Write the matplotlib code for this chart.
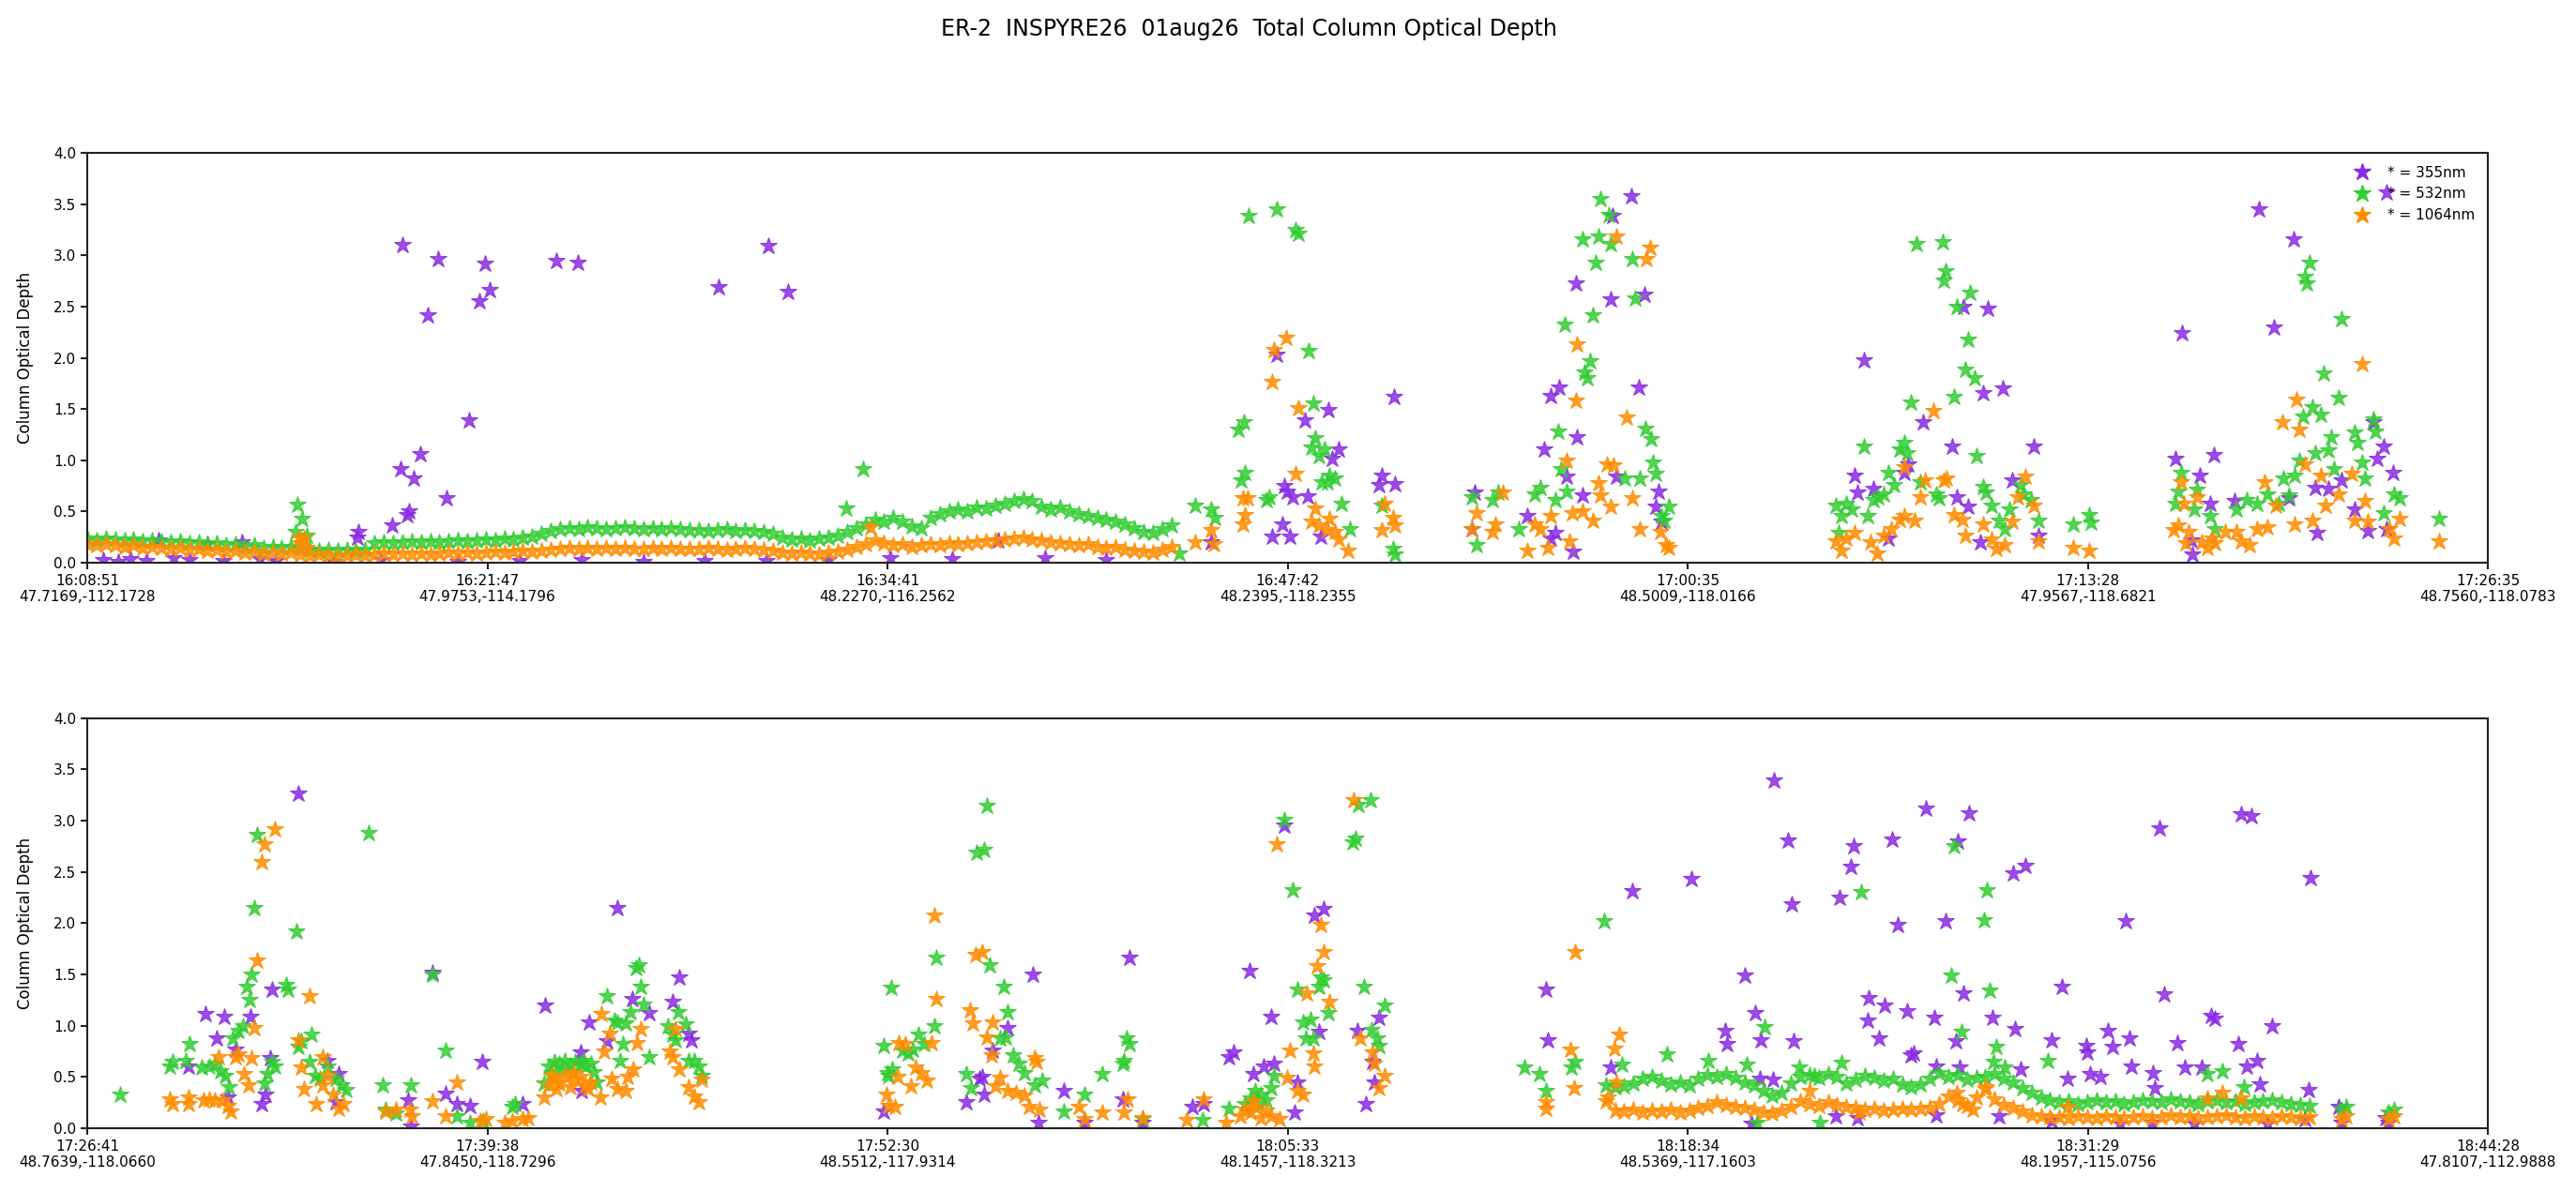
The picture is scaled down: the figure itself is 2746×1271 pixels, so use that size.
import numpy as np
import matplotlib.pyplot as plt
from matplotlib.lines import Line2D

# minutes after the first time on each panel
top_start, top_end = '16:08:51', '17:26:35'
bot_start, bot_end = '17:26:41', '18:44:28'

top_labels = ['16:08:51\n47.7169,-112.1728', '16:21:47\n47.9753,-114.1796',
              '16:34:41\n48.2270,-116.2562', '16:47:42\n48.2395,-118.2355',
              '17:00:35\n48.5009,-118.0166', '17:13:28\n47.9567,-118.6821',
              '17:26:35\n48.7560,-118.0783']
bot_labels = ['17:26:41\n48.7639,-118.0660', '17:39:38\n47.8450,-118.7296',
              '17:52:30\n48.5512,-117.9314', '18:05:33\n48.1457,-118.3213',
              '18:18:34\n48.5369,-117.1603', '18:31:29\n48.1957,-115.0756',
              '18:44:28\n47.8107,-112.9888']

# dense (every ~18 s) stretches of the record
band_step = 0.3
top_band_start = 0.0
top_band_532 = [0.24, 0.22, 0.24, 0.23, 0.22, 0.23, 0.21, 0.22, 0.21, 0.20, 0.21, 0.19, 0.20, 0.18, 0.19, 0.17,
                0.18, 0.16, 0.17, 0.15, 0.16, 0.15, 0.16,
                0.14, 0.13, 0.12, 0.13, 0.12, 0.13, 0.12, 0.13,
                0.19, 0.20, 0.19, 0.20, 0.21, 0.20, 0.21, 0.20, 0.21, 0.22, 0.21, 0.22, 0.23, 0.22, 0.24, 0.23,
                0.25, 0.26, 0.28,
                0.31, 0.33, 0.34, 0.33, 0.35, 0.34, 0.33, 0.34, 0.35, 0.34, 0.33, 0.34, 0.33, 0.34, 0.33, 0.32,
                0.32, 0.31, 0.32, 0.33, 0.31, 0.32, 0.31, 0.30, 0.28,
                0.25, 0.23, 0.24, 0.22, 0.24, 0.25, 0.27,
                0.30, 0.34, 0.38, 0.42, 0.40, 0.44, 0.40,
                0.36, 0.34, 0.44, 0.48, 0.50, 0.52, 0.50, 0.54, 0.53, 0.56, 0.58, 0.60, 0.62, 0.60, 0.55, 0.52,
                0.54, 0.50, 0.48, 0.46, 0.44, 0.42, 0.40, 0.38, 0.34, 0.30, 0.29, 0.33, 0.37]
top_band_1064 = [0.18, 0.17, 0.18, 0.17, 0.16, 0.17, 0.15, 0.16, 0.15, 0.14, 0.15, 0.13, 0.14, 0.12, 0.13, 0.11,
                 0.12, 0.10, 0.11, 0.09, 0.10, 0.09, 0.10,
                 0.08, 0.07, 0.08, 0.07, 0.06, 0.07, 0.08, 0.07,
                 0.08, 0.09, 0.08, 0.09, 0.08, 0.09, 0.08, 0.09, 0.10, 0.09, 0.10, 0.09, 0.10, 0.11, 0.10, 0.11,
                 0.12, 0.11, 0.12,
                 0.13, 0.14, 0.15, 0.14, 0.15, 0.14, 0.15, 0.14, 0.15, 0.14, 0.14, 0.15, 0.14, 0.15, 0.14, 0.14,
                 0.14, 0.15, 0.14, 0.13, 0.14, 0.15, 0.14, 0.13, 0.12,
                 0.10, 0.09, 0.10, 0.09, 0.08, 0.10, 0.11,
                 0.13, 0.16, 0.18, 0.22, 0.19, 0.17, 0.18,
                 0.16, 0.17, 0.18, 0.17, 0.19, 0.18, 0.19, 0.20, 0.21, 0.22, 0.23, 0.24, 0.25, 0.23, 0.22, 0.20,
                 0.19, 0.18, 0.17, 0.18, 0.16, 0.15, 0.16, 0.13, 0.12, 0.11, 0.10, 0.13, 0.16]

bot_band_start = 49.2
bot_band_532 = [0.42, 0.40, 0.41, 0.44, 0.48, 0.50, 0.46, 0.43, 0.45, 0.42, 0.48,
                0.52, 0.50, 0.53, 0.49, 0.45, 0.42,
                0.36, 0.32, 0.35, 0.44,
                0.50, 0.52, 0.49, 0.53, 0.50, 0.44,
                0.47, 0.51, 0.49, 0.46, 0.48, 0.43, 0.40,
                0.43, 0.48, 0.54, 0.50, 0.52, 0.47, 0.49, 0.50, 0.53, 0.48, 0.45,
                0.39, 0.35, 0.30, 0.27,
                0.25, 0.26, 0.24, 0.25, 0.27, 0.25, 0.26, 0.24, 0.25, 0.27, 0.26, 0.25, 0.28, 0.26, 0.25, 0.24,
                0.26, 0.27, 0.25, 0.26, 0.24, 0.25, 0.26, 0.27, 0.25, 0.24, 0.23, 0.22]
bot_band_1064 = [0.26, 0.17, 0.16, 0.18, 0.15, 0.17, 0.16, 0.18, 0.15, 0.17, 0.20,
                 0.22, 0.25, 0.23, 0.21, 0.20, 0.18,
                 0.15, 0.14, 0.17, 0.21,
                 0.26, 0.24, 0.22, 0.25, 0.23, 0.21,
                 0.20, 0.18, 0.19, 0.17, 0.18, 0.19, 0.18,
                 0.19, 0.20, 0.24, 0.31, 0.27, 0.22, 0.30, 0.38, 0.28, 0.23, 0.20,
                 0.16, 0.13, 0.12, 0.11,
                 0.11, 0.10, 0.12, 0.11, 0.10, 0.12, 0.11, 0.10, 0.11, 0.12, 0.10, 0.11, 0.13, 0.11, 0.12, 0.10,
                 0.11, 0.12, 0.13, 0.11, 0.10, 0.12, 0.11, 0.10, 0.12, 0.11, 0.10, 0.11]

# sparse points (minute, optical depth)
top_355 = [(0.5, 0.03), (1.0, 0.01), (1.4, 0.04), (1.9, 0.02), (2.3, 0.22), (2.8, 0.05), (3.3, 0.03),
           (3.9, 0.18), (4.4, 0.02), (5.0, 0.20), (5.6, 0.04), (6.1, 0.02), (8.0, 0.01), (9.5, 0.03),
           (12.0, 0.01), (14.0, 0.02), (16.0, 0.03), (18.0, 0.01), (20.0, 0.02), (22.0, 0.02), (24.0, 0.03),
           (26.0, 0.05), (28.0, 0.04), (29.5, 0.22), (31.0, 0.05), (33.0, 0.03),
           (8.78, 0.30), (8.75, 0.25), (9.87, 0.37), (10.35, 0.47), (10.43, 0.50), (10.14, 0.92), (10.57, 0.82),
           (10.79, 1.06), (11.64, 0.63), (12.36, 1.39), (10.21, 3.10), (11.03, 2.42), (11.37, 2.97),
           (12.70, 2.55), (13.04, 2.66), (12.89, 2.92), (15.20, 2.95), (15.89, 2.93), (20.44, 2.69),
           (22.04, 3.09), (22.69, 2.65),
           (36.39, 0.20), (38.52, 2.03), (38.35, 0.26), (38.94, 0.26), (38.69, 0.38), (38.77, 0.75), (38.86, 0.70),
           (39.03, 0.64), (39.51, 0.65), (39.42, 1.39), (40.19, 1.49), (40.53, 1.11), (40.31, 1.02), (39.93, 0.26),
           (42.30, 1.62), (41.93, 0.85), (41.84, 0.76), (42.35, 0.77), (44.91, 0.69), (44.83, 0.33), (46.62, 0.46),
           (47.18, 1.11), (47.38, 1.63), (47.67, 1.71), (48.24, 1.23), (47.90, 0.84), (47.38, 0.24), (47.55, 0.29),
           (48.10, 0.11), (48.20, 2.73), (49.34, 2.57), (49.40, 3.39), (49.99, 3.58), (50.25, 1.71), (50.42, 2.62),
           (48.41, 0.66), (49.52, 0.84), (50.88, 0.70), (50.79, 0.55), (50.96, 0.40),
           (57.53, 1.98), (57.22, 0.85), (57.31, 0.69), (57.82, 0.72), (58.33, 0.24), (58.84, 0.88), (58.97, 0.96),
           (59.44, 1.37), (60.38, 1.14), (60.75, 2.50), (61.54, 2.48), (61.40, 1.66), (62.03, 1.70), (60.55, 0.64),
           (60.89, 0.55), (61.31, 0.20), (62.34, 0.81), (63.02, 1.14), (63.19, 0.27), (67.62, 1.02), (67.84, 2.24),
           (68.39, 0.85), (68.87, 1.05), (68.14, 0.22), (68.15, 0.08), (68.73, 0.58), (69.52, 0.60), (70.32, 3.45),
           (70.81, 2.30), (71.43, 3.16), (71.29, 0.63), (72.14, 0.73), (72.57, 0.72), (72.19, 0.29), (72.99, 0.81),
           (73.42, 0.52), (73.85, 0.31), (74.02, 1.37), (74.35, 1.14), (74.15, 1.02), (74.66, 0.88), (74.44, 0.33),
           (74.46, 3.62)]
top_532 = [(6.80, 0.57), (6.95, 0.43), (7.10, 0.27), (6.75, 0.30), (24.58, 0.53), (25.13, 0.92),
           (35.36, 0.09), (35.88, 0.56), (36.39, 0.52), (36.51, 0.44), (37.27, 1.30), (37.46, 1.37), (37.36, 0.81),
           (37.49, 0.88), (37.61, 3.39), (38.52, 3.45), (39.11, 3.25), (39.20, 3.21), (39.54, 2.07), (38.26, 0.64),
           (38.18, 0.61), (39.71, 1.56), (39.75, 1.22), (39.63, 1.13), (40.05, 1.11), (39.88, 1.04), (39.97, 0.79),
           (40.14, 0.79), (40.39, 0.82), (40.22, 0.85), (40.61, 0.58), (40.87, 0.33), (41.93, 0.56), (42.27, 0.14),
           (42.35, 0.08), (44.83, 0.64), (45.00, 0.17), (45.51, 0.61), (45.68, 0.69), (46.36, 0.33), (46.87, 0.67),
           (47.04, 0.73), (47.72, 0.92), (47.64, 1.28), (47.55, 0.61), (47.90, 0.70), (47.84, 2.33), (48.49, 1.86),
           (48.66, 1.97), (48.58, 1.80), (48.75, 2.42), (48.83, 2.93), (49.00, 3.55), (49.26, 3.40), (48.41, 3.16),
           (48.92, 3.19), (49.34, 3.11), (50.03, 2.97), (50.11, 2.58), (50.45, 1.31), (50.62, 1.21), (50.71, 0.98),
           (50.28, 0.82), (49.77, 0.82), (50.79, 0.87), (50.96, 0.46), (51.22, 0.55), (51.05, 0.41),
           (56.62, 0.56), (56.79, 0.46), (56.96, 0.58), (57.13, 0.52), (56.71, 0.29), (57.53, 1.14), (57.65, 0.46),
           (57.82, 0.61), (57.99, 0.64), (58.16, 0.67), (58.33, 0.88), (58.50, 0.76), (58.67, 1.11), (58.84, 1.17),
           (58.93, 1.07), (59.06, 1.57), (59.22, 3.11), (59.35, 0.79), (59.86, 0.67), (59.95, 0.63), (60.07, 3.13),
           (60.17, 2.85), (60.12, 2.76), (60.55, 2.50), (60.97, 2.64), (60.89, 2.18), (60.80, 1.89), (61.11, 1.80),
           (60.46, 1.62), (61.19, 1.04), (61.40, 0.74), (61.48, 0.69), (61.65, 0.56), (61.91, 0.41), (62.08, 0.33),
           (62.25, 0.52), (62.59, 0.76), (62.68, 0.67), (62.93, 0.61), (63.19, 0.41), (64.30, 0.38), (64.81, 0.47),
           (64.89, 0.39), (67.79, 0.88), (67.71, 0.70), (67.62, 0.58), (68.22, 0.52), (68.30, 0.71), (68.73, 0.46),
           (68.90, 0.33), (69.58, 0.52), (69.92, 0.61), (70.26, 0.58), (70.60, 0.67), (70.95, 0.58), (71.12, 0.82),
           (71.29, 0.66), (71.46, 0.85), (71.63, 1.00), (71.76, 1.43), (72.05, 1.52), (72.31, 1.45), (71.97, 2.93),
           (71.80, 2.79), (71.88, 2.73), (72.43, 1.85), (72.99, 2.38), (72.91, 1.61), (72.14, 1.07), (72.57, 1.10),
           (72.65, 1.23), (72.74, 0.92), (73.42, 1.27), (73.50, 1.17), (74.02, 1.40), (74.10, 1.28), (73.67, 0.98),
           (73.76, 0.82), (74.36, 0.49), (74.70, 0.67), (74.87, 0.63), (76.15, 0.43)]
top_1064 = [(6.85, 0.25), (7.00, 0.24), (7.10, 0.15), (6.90, 0.19), (25.35, 0.35),
            (35.88, 0.20), (36.47, 0.18), (36.39, 0.32), (37.41, 0.63), (37.58, 0.63), (37.49, 0.47), (37.41, 0.38),
            (38.35, 1.77), (38.43, 2.08), (38.82, 2.20), (39.20, 1.51), (39.11, 0.87), (39.75, 0.53), (39.63, 0.40),
            (39.88, 0.37), (40.22, 0.43), (40.14, 0.32), (40.39, 0.30), (40.53, 0.23), (40.82, 0.12), (42.01, 0.58),
            (41.93, 0.32), (42.27, 0.44), (42.35, 0.37), (44.83, 0.33), (45.00, 0.49), (45.51, 0.30), (45.85, 0.69),
            (45.59, 0.38), (46.62, 0.12), (46.87, 0.38), (47.04, 0.33), (47.30, 0.15), (47.38, 0.46), (47.90, 1.00),
            (47.98, 0.21), (48.20, 1.58), (48.24, 2.13), (48.07, 0.49), (48.41, 0.50), (48.92, 0.78), (49.00, 0.66),
            (48.75, 0.41), (49.22, 0.96), (49.43, 0.95), (49.52, 3.19), (49.86, 1.42), (50.03, 0.63), (49.34, 0.55),
            (50.28, 0.33), (50.49, 2.97), (50.59, 3.08), (50.93, 0.30), (51.13, 0.17), (51.22, 0.15),
            (56.62, 0.21), (56.79, 0.12), (56.96, 0.24), (57.22, 0.29), (57.73, 0.20), (57.95, 0.09), (58.16, 0.27),
            (58.41, 0.33), (58.67, 0.42), (58.84, 0.46), (58.84, 0.93), (59.18, 0.41), (59.35, 0.64), (59.49, 0.81),
            (59.78, 1.48), (60.12, 0.81), (60.20, 0.82), (60.46, 0.47), (60.72, 0.42), (60.80, 0.27), (61.40, 0.38),
            (61.65, 0.23), (61.82, 0.14), (62.08, 0.17), (62.34, 0.40), (62.51, 0.64), (62.76, 0.84), (63.02, 0.56),
            (63.19, 0.21), (64.30, 0.15), (64.81, 0.12), (67.54, 0.32), (67.79, 0.79), (67.88, 0.58), (68.05, 0.30),
            (68.30, 0.64), (68.64, 0.15), (68.81, 0.24), (69.58, 0.30), (70.01, 0.17), (70.26, 0.33), (70.49, 0.79),
            (70.86, 0.56), (71.08, 1.37), (71.54, 1.59), (71.63, 1.30), (71.46, 0.38), (71.80, 0.96), (72.05, 0.41),
            (72.31, 0.85), (72.48, 0.56), (72.91, 0.67), (73.33, 0.87), (73.67, 1.94), (73.76, 0.60), (73.42, 0.41),
            (73.85, 0.40), (74.53, 0.33), (74.70, 0.24), (74.87, 0.43), (76.15, 0.21), (68.90, 0.19), (69.24, 0.30),
            (69.75, 0.21), (70.60, 0.35), (67.71, 0.37), (67.96, 0.19), (68.47, 0.20)]

bot_355 = [(3.27, 0.60), (3.84, 1.11), (4.43, 1.09), (4.18, 0.88), (4.55, 0.30), (4.81, 0.77), (5.29, 1.09),
           (5.66, 0.24), (5.78, 0.33), (5.92, 0.68), (6.00, 1.35), (6.85, 3.27), (7.79, 0.66), (8.14, 0.53),
           (8.05, 0.25), (10.39, 0.27), (10.49, 0.02), (11.17, 1.52), (11.60, 0.34), (11.97, 0.24), (12.40, 0.22),
           (12.79, 0.65), (14.11, 0.24), (14.84, 1.20), (15.98, 0.74), (16.03, 0.36), (16.27, 1.03), (16.83, 0.85),
           (17.18, 2.15), (17.65, 1.26), (18.20, 1.12), (18.97, 1.23), (19.19, 1.47), (19.48, 0.92), (19.56, 0.86),
           (25.79, 0.16),
           (28.47, 0.25), (28.90, 0.48), (28.98, 0.50), (29.07, 0.33), (29.32, 0.76), (29.83, 0.98), (30.65, 1.50),
           (30.82, 0.05), (31.63, 0.36), (32.31, 0.05), (33.55, 0.28), (33.76, 1.66), (34.18, 0.05), (35.80, 0.21),
           (36.18, 0.24), (37.00, 0.69), (37.14, 0.74), (37.65, 1.54), (37.77, 0.53), (38.11, 0.60), (38.36, 1.09),
           (38.45, 0.63), (38.79, 2.95), (39.13, 0.15), (39.22, 0.45), (39.76, 2.08), (40.07, 2.14), (39.90, 0.94),
           (41.14, 0.95), (41.43, 0.24), (41.64, 0.65), (41.86, 1.08), (41.69, 0.45), (47.27, 1.35), (47.32, 0.86),
           (49.37, 0.59), (50.05, 2.31), (51.97, 2.43),
           (53.72, 1.49), (54.64, 3.39), (55.12, 2.81), (55.24, 2.19), (56.79, 2.25), (57.13, 2.55), (57.22, 2.75),
           (58.48, 2.82), (58.65, 1.98), (59.56, 3.12), (60.20, 2.02), (60.61, 2.80), (60.97, 3.07), (62.41, 2.49),
           (62.80, 2.56), (66.04, 2.02), (67.15, 2.93), (69.79, 3.06), (70.13, 3.05), (72.04, 2.44),
           (53.07, 0.95), (53.13, 0.82), (54.05, 1.12), (54.23, 0.86), (55.29, 0.85), (57.73, 1.27), (57.68, 1.05),
           (58.06, 0.88), (58.24, 1.20), (58.96, 1.14), (59.10, 0.71), (59.18, 0.73), (59.86, 1.08), (60.55, 0.85),
           (60.78, 1.32), (61.74, 1.08), (62.46, 0.97), (63.65, 0.86), (63.99, 1.38), (64.76, 0.80), (64.79, 0.74),
           (64.90, 0.53), (65.24, 0.50), (65.48, 0.95), (65.61, 0.79), (66.18, 0.88), (66.24, 0.60), (66.93, 0.54),
           (67.28, 1.31), (67.71, 0.83), (67.97, 0.59), (68.82, 1.10), (68.94, 1.07), (69.71, 0.82), (70.30, 0.66),
           (70.78, 1.00), (70.39, 0.43), (71.98, 0.37), (72.95, 0.21), (74.48, 0.10), (54.18, 0.48), (54.61, 0.47),
           (59.90, 0.60), (60.67, 0.59), (62.63, 0.57), (64.16, 0.48), (66.98, 0.39), (69.96, 0.60), (68.51, 0.59),
           (53.93, 0.04), (56.66, 0.12), (57.34, 0.10), (59.90, 0.13), (61.94, 0.12), (63.65, 0.07), (65.87, 0.04),
           (66.89, 0.05), (68.26, 0.04), (70.64, 0.04), (71.84, 0.09), (73.03, 0.05), (74.57, 0.05)]
bot_532 = [(1.05, 0.33), (2.68, 0.60), (2.76, 0.65), (3.19, 0.66), (3.32, 0.82), (3.70, 0.59), (3.95, 0.60),
           (4.13, 0.63), (4.30, 0.56), (4.47, 0.51), (4.59, 0.40), (4.72, 0.88), (4.89, 0.95), (5.03, 1.00),
           (5.15, 1.38), (5.27, 1.25), (5.32, 1.50), (5.42, 2.15), (5.49, 2.86), (5.75, 0.44), (5.83, 0.53),
           (6.00, 0.65), (6.09, 0.60), (6.43, 1.40), (6.51, 1.35), (6.77, 1.92), (6.85, 0.79), (6.94, 0.85),
           (7.25, 0.91), (7.20, 0.65), (7.37, 0.51), (7.54, 0.48), (7.79, 0.60), (8.05, 0.48), (8.22, 0.42),
           (8.39, 0.37), (9.11, 2.88), (9.58, 0.42), (9.67, 0.18), (10.01, 0.14), (10.49, 0.42), (11.17, 1.50),
           (11.60, 0.76), (11.97, 0.12), (12.40, 0.05), (12.83, 0.07), (13.76, 0.21), (13.85, 0.24), (14.79, 0.44),
           (14.96, 0.60), (15.13, 0.65), (15.30, 0.63), (15.47, 0.66), (15.64, 0.61), (15.81, 0.65), (15.98, 0.63),
           (16.15, 0.60), (16.32, 0.63), (15.04, 0.54), (15.38, 0.57), (15.73, 0.55), (16.07, 0.66), (16.41, 0.55),
           (16.49, 0.45), (16.83, 1.29), (17.09, 1.05), (17.18, 1.03), (17.43, 1.02), (17.60, 1.13), (17.77, 1.56),
           (17.86, 1.59), (17.94, 1.38), (18.03, 1.21), (17.35, 0.82), (17.26, 0.66), (18.20, 0.69), (18.80, 1.00),
           (18.97, 0.91), (19.05, 0.86), (19.14, 1.13), (19.39, 1.01), (19.48, 0.66), (19.65, 0.66), (19.82, 0.60),
           (19.91, 0.51), (25.79, 0.80), (26.05, 1.37), (25.96, 0.51),
           (25.91, 0.54), (26.08, 0.57), (26.42, 0.76), (26.59, 0.73), (26.76, 0.77), (26.93, 0.91), (27.10, 0.82),
           (27.45, 1.00), (27.50, 1.66), (28.47, 0.53), (28.64, 0.39), (28.81, 2.69), (29.07, 2.72), (29.15, 3.15),
           (29.24, 1.59), (29.70, 1.38), (29.83, 1.13), (29.58, 0.88), (29.75, 0.89), (30.00, 0.71), (30.18, 0.63),
           (30.35, 0.54), (30.69, 0.42), (30.94, 0.46), (31.63, 0.16), (32.31, 0.33), (32.90, 0.53), (33.55, 0.63),
           (33.59, 0.66), (33.67, 0.88), (33.76, 0.82), (34.18, 0.09), (36.15, 0.08), (37.00, 0.19), (37.51, 0.24),
           (37.68, 0.29), (37.85, 0.36), (38.02, 0.33), (38.19, 0.27), (38.36, 0.39), (37.94, 0.24), (38.45, 0.51),
           (38.79, 3.01), (39.05, 2.32), (39.22, 1.35), (39.39, 1.03), (39.47, 0.88), (39.64, 1.06), (39.73, 0.88),
           (39.90, 1.38), (39.98, 1.47), (40.07, 1.44), (40.21, 1.12), (41.01, 2.79), (41.09, 2.83), (41.18, 3.16),
           (41.57, 3.20), (41.38, 1.38), (41.61, 0.96), (41.78, 0.88), (41.86, 0.80), (42.03, 1.20), (46.55, 0.59),
           (47.06, 0.53), (47.27, 0.36), (48.09, 0.59), (48.22, 0.65), (49.15, 2.02), (49.71, 0.62), (51.19, 0.72),
           (52.53, 0.66), (53.76, 0.62), (54.35, 0.99), (57.48, 2.30), (60.38, 1.49), (60.49, 2.75), (60.72, 0.94),
           (61.47, 2.03), (61.55, 2.32), (61.64, 1.34), (61.86, 0.79), (61.77, 0.65), (63.53, 0.66), (62.12, 0.59),
           (56.14, 0.05), (54.10, 0.05), (56.83, 0.64), (55.46, 0.59), (55.97, 0.51), (69.19, 0.56), (68.68, 0.53),
           (69.88, 0.40), (73.03, 0.18), (73.20, 0.21), (74.57, 0.15), (74.74, 0.18)]
bot_1064 = [(2.68, 0.28), (2.76, 0.24), (3.27, 0.30), (3.27, 0.24), (3.78, 0.27), (3.95, 0.28), (4.13, 0.27),
            (4.38, 0.27), (4.55, 0.22), (4.24, 0.69), (4.64, 0.16), (4.81, 0.69), (4.89, 0.72), (5.06, 0.53),
            (5.23, 0.42), (5.32, 0.68), (5.41, 0.98), (5.49, 1.64), (5.66, 2.60), (5.75, 2.77), (6.09, 2.92),
            (6.85, 0.86), (6.94, 0.59), (7.03, 0.38), (7.20, 1.29), (7.42, 0.24), (7.62, 0.69), (7.62, 0.42),
            (7.79, 0.51), (7.96, 0.33), (8.13, 0.19), (8.30, 0.24), (9.67, 0.16), (10.01, 0.18), (10.44, 0.18),
            (10.52, 0.12), (11.17, 0.26), (11.60, 0.12), (11.97, 0.45), (12.74, 0.07), (12.91, 0.09), (13.51, 0.05),
            (13.76, 0.07), (14.11, 0.09), (14.28, 0.10), (14.79, 0.30), (14.96, 0.42), (15.13, 0.48), (15.30, 0.44),
            (15.47, 0.51), (15.64, 0.40), (15.81, 0.47), (15.98, 0.50), (16.15, 0.42), (16.32, 0.45), (15.21, 0.38),
            (15.73, 0.54), (16.24, 0.38), (15.04, 0.51), (16.61, 0.30), (16.66, 1.11), (16.92, 0.92), (16.75, 0.75),
            (17.00, 0.48), (17.18, 0.38), (17.43, 0.36), (17.52, 0.50), (17.69, 0.57), (17.82, 0.83), (17.94, 0.97),
            (18.88, 0.75), (18.97, 0.69), (19.05, 0.97), (19.19, 0.57), (19.48, 0.40), (19.65, 0.31), (19.82, 0.25),
            (19.91, 0.47), (25.88, 0.33), (25.96, 0.22), (26.30, 0.83),
            (26.17, 0.21), (26.25, 0.50), (26.51, 0.82), (26.68, 0.41), (26.85, 0.59), (27.02, 0.54), (27.19, 0.46),
            (27.36, 0.83), (27.45, 2.08), (27.50, 1.26), (28.61, 1.15), (28.69, 1.02), (28.78, 1.69), (28.98, 1.72),
            (29.15, 0.89), (29.32, 1.03), (29.29, 0.71), (29.41, 0.41), (29.58, 0.49), (29.83, 0.36), (30.09, 0.35),
            (30.35, 0.32), (30.52, 0.21), (30.69, 0.68), (30.77, 0.65), (30.86, 0.18), (32.14, 0.21), (32.31, 0.09),
            (32.90, 0.15), (33.59, 0.15), (33.72, 0.28), (34.18, 0.10), (35.63, 0.08), (36.18, 0.28), (36.91, 0.05),
            (37.34, 0.12), (37.51, 0.18), (37.68, 0.15), (37.85, 0.21), (38.02, 0.10), (38.19, 0.17), (38.36, 0.12),
            (38.62, 0.09), (37.77, 0.26), (38.53, 2.77), (38.96, 0.76), (38.88, 0.49), (39.22, 0.36), (39.39, 0.33),
            (39.52, 1.32), (39.73, 0.73), (39.76, 0.60), (39.86, 1.58), (39.98, 1.98), (40.07, 1.72), (40.24, 1.23),
            (41.04, 3.20), (41.23, 0.88), (41.64, 0.74), (41.69, 0.63), (41.86, 0.39), (42.03, 0.51), (47.27, 0.25),
            (47.27, 0.19), (48.05, 0.77), (48.17, 0.39), (48.22, 1.72), (49.28, 0.30), (49.49, 0.78), (49.62, 0.91),
            (49.54, 0.45), (55.80, 0.36), (60.58, 0.35), (61.52, 0.40), (68.68, 0.29), (69.19, 0.35), (69.79, 0.29),
            (57.42, 0.15), (60.75, 0.24), (61.09, 0.18), (64.16, 0.21), (73.03, 0.09), (74.57, 0.09), (73.20, 0.12),
            (74.74, 0.12)]

c355, c532, c1064 = '#8a2be2', '#32cd32', '#ff8c00'


def minutes(hms):
    h, m, s = [int(x) for x in hms.split(':')]
    return h * 60 + m + s / 60.0


def stars(ax, pts, color, band=None, band_start=0.0):
    t = [p[0] for p in pts]
    v = [p[1] for p in pts]
    if band is not None:
        t = list(band_start + band_step * np.arange(len(band))) + t
        v = list(band) + v
    ax.plot(t, v, ls='none', marker='*', ms=13.5, mew=0.8, color=color, alpha=0.85)


def panel(ax, start, end, labels, p355, p532, p1064, b532, b1064, bstart):
    span = minutes(end) - minutes(start)
    stars(ax, p355, c355)
    stars(ax, p532, c532, b532, bstart)
    stars(ax, p1064, c1064, b1064, bstart)
    ax.set_xlim(0, span)
    ax.set_ylim(0, 4)
    ax.set_xticks(np.linspace(0, span, len(labels)))
    ax.set_xticklabels(labels, fontsize=11)
    ax.set_yticks(np.arange(0, 4.01, 0.5))
    ax.set_yticklabels(['%.1f' % y for y in np.arange(0, 4.01, 0.5)], fontsize=11)
    ax.set_ylabel('Column Optical Depth', fontsize=12)
    ax.yaxis.set_label_coords(-0.0225, 0.5)
    for s in ax.spines.values():
        s.set_linewidth(1.5)
        s.set_color('#222222')
    ax.tick_params(width=1.5, length=5, color='#222222')


fig = plt.figure(figsize=(27.46, 12.71), dpi=100)
ax1 = fig.add_axes([0.0339, 0.5279, 0.9319, 0.3438])
ax2 = fig.add_axes([0.0339, 0.0537, 0.9319, 0.3438])

panel(ax1, top_start, top_end, top_labels, top_355, top_532, top_1064,
      top_band_532, top_band_1064, top_band_start)
panel(ax2, bot_start, bot_end, bot_labels, bot_355, bot_532, bot_1064,
      bot_band_532, bot_band_1064, bot_band_start)

handles = [Line2D([], [], ls='none', marker='*', ms=13.5, color=c) for c in (c355, c532, c1064)]
ax1.legend(handles, ['* = 355nm', '* = 532nm', '* = 1064nm'], loc='upper right',
           frameon=False, fontsize=11)

fig.suptitle('ER-2  INSPYRE26  01aug26  Total Column Optical Depth', x=0.485, y=0.985, fontsize=17)

fig.savefig('out.png', dpi=100)
